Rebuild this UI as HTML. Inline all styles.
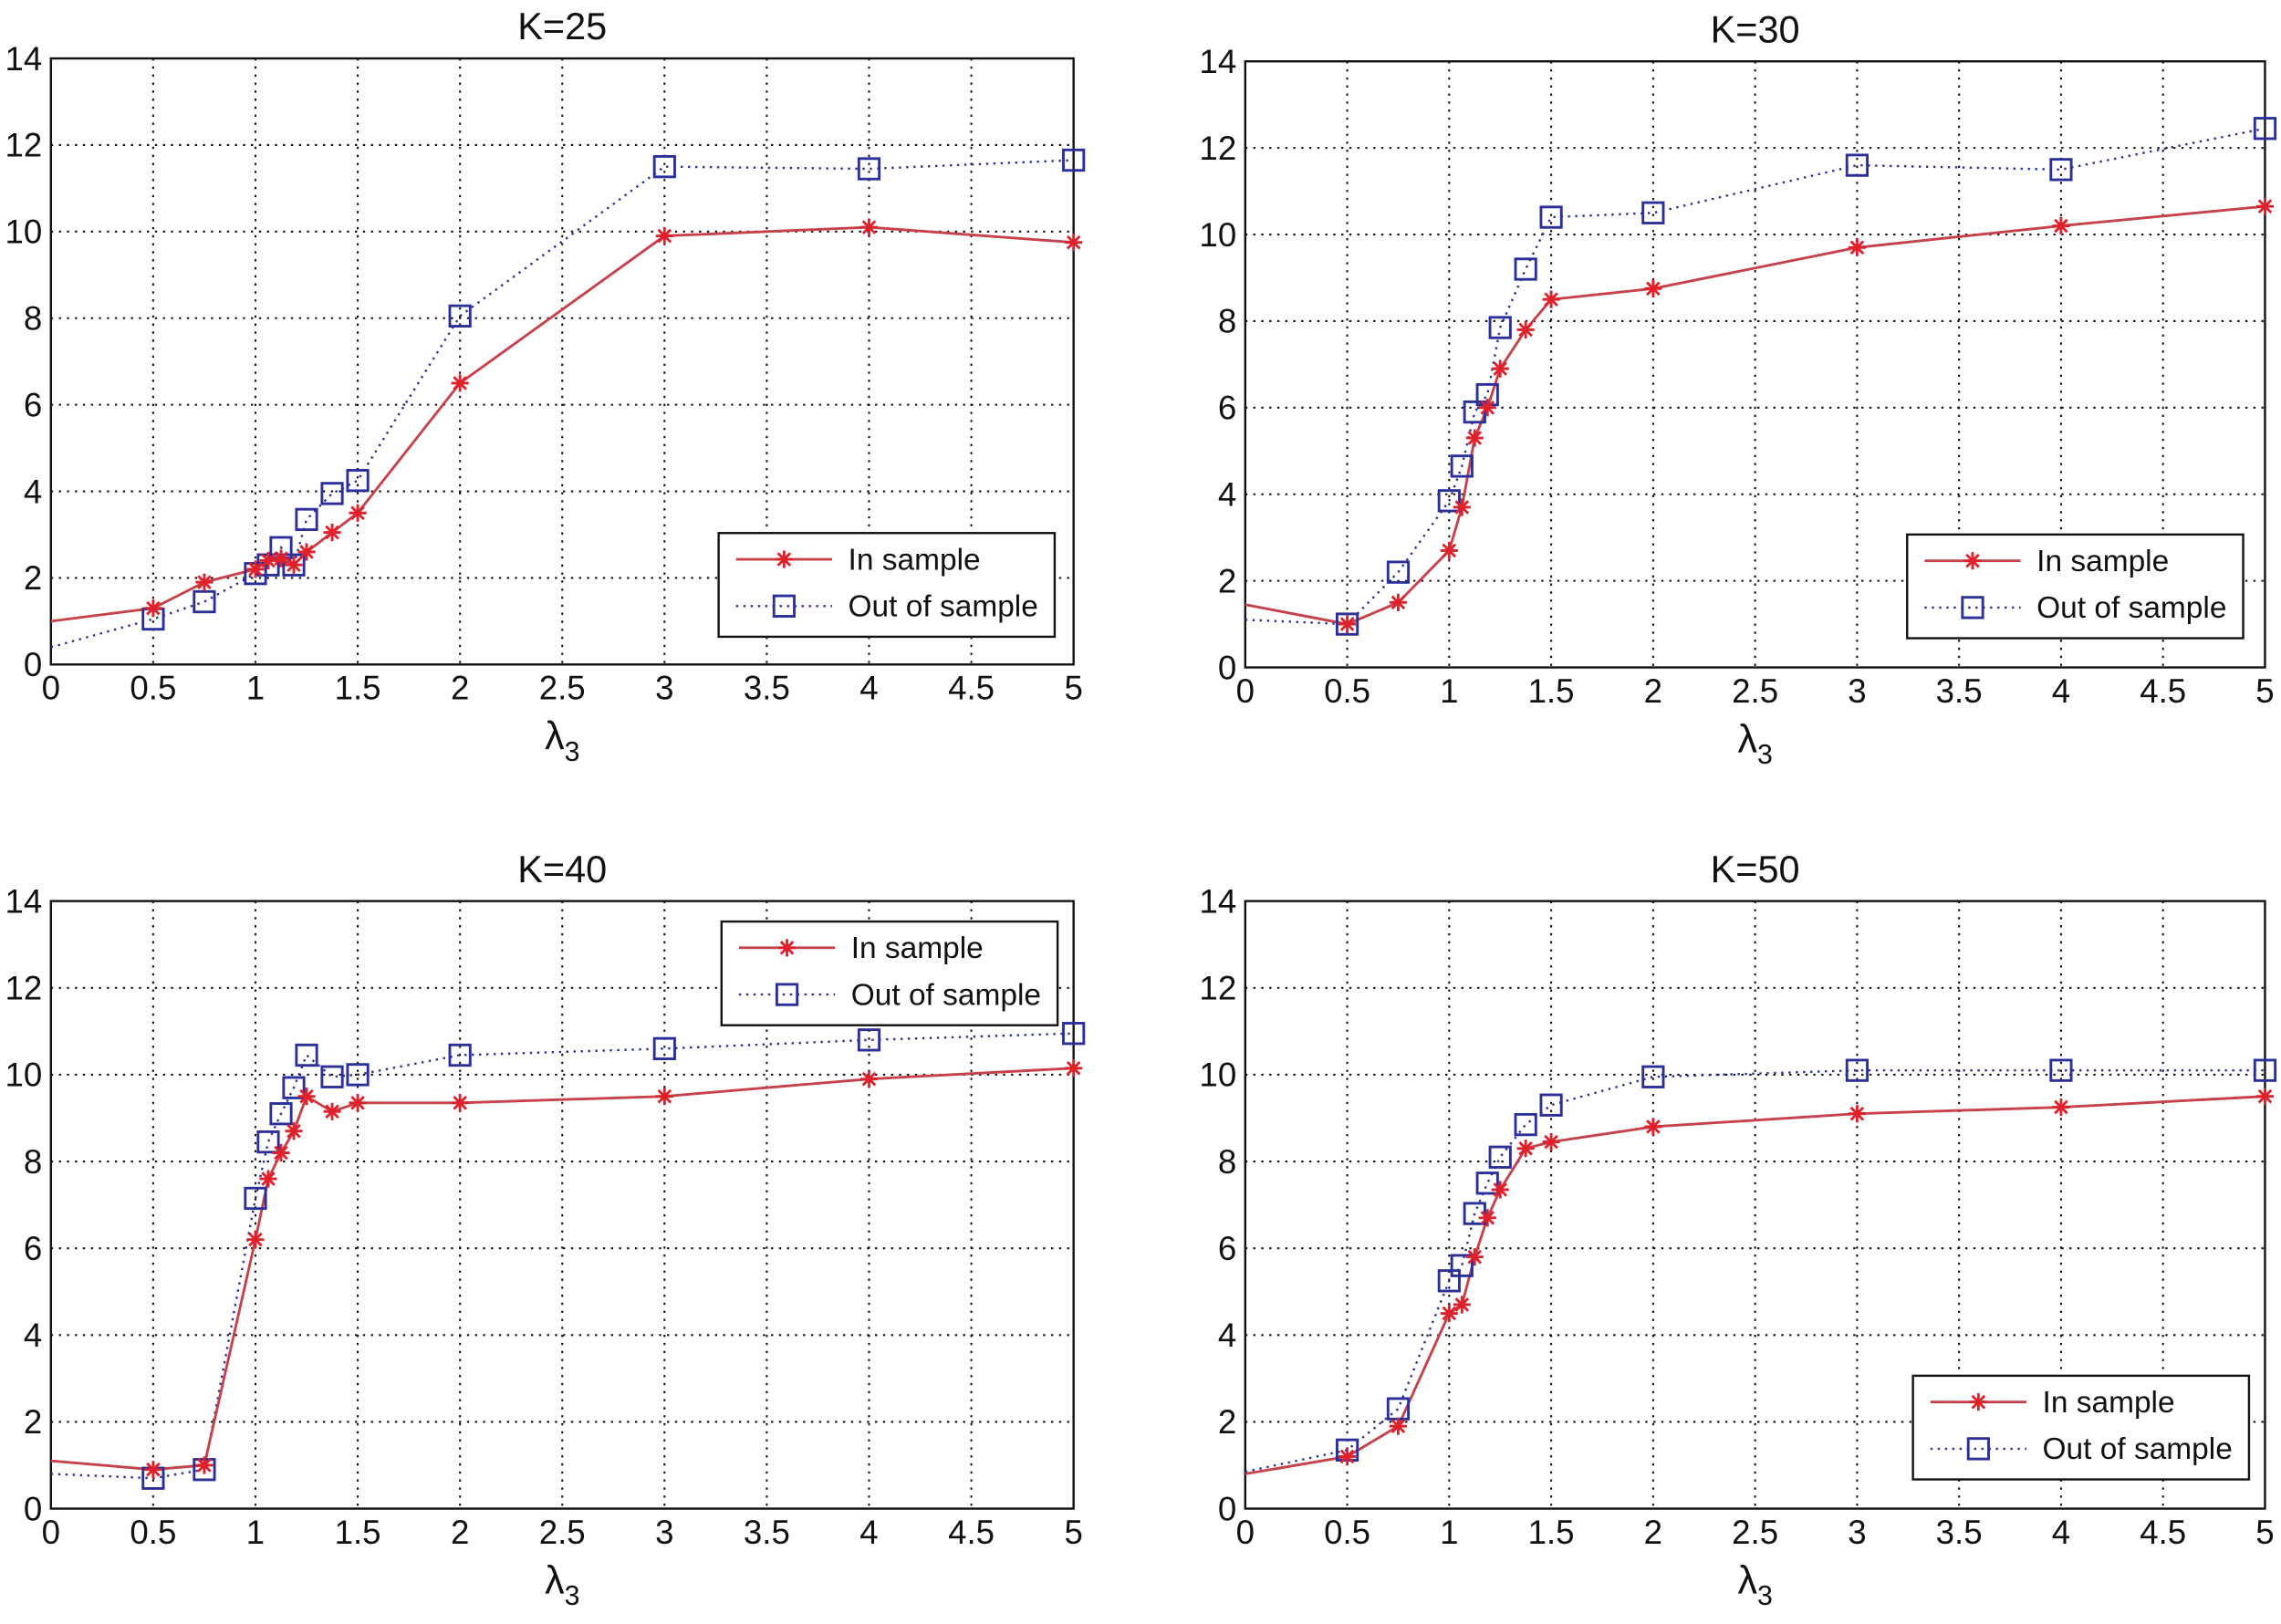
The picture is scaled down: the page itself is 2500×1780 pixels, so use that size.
<!DOCTYPE html>
<html><head><meta charset="utf-8"><style>
html,body{margin:0;padding:0;background:#fff;}
svg{display:block;font-family:"Liberation Sans",sans-serif;}
</style></head><body>
<svg id="fig" width="2500" height="1780" viewBox="0 0 1568 1112" preserveAspectRatio="none" xmlns="http://www.w3.org/2000/svg"></svg>
<script>
const xVals = [0,0.5,0.75,1,1.0625,1.125,1.1875,1.25,1.375,1.5,2,3,4,5];
const titles = ["K=25","K=30","K=40","K=50"];
const inK25 = [1.0,1.3,1.9,2.2,2.4,2.45,2.3,2.6,3.05,3.5,6.5,9.9,10.1,9.75];
const outK25 = [0.4,1.05,1.45,2.1,2.3,2.7,2.3,3.35,3.95,4.25,8.05,11.5,11.45,11.65];
const inK30 = [1.45,1.0,1.5,2.7,3.7,5.3,6.0,6.9,7.8,8.5,8.75,9.7,10.2,10.65];
const outK30 = [1.1,1.0,2.2,3.85,4.65,5.9,6.3,7.85,9.2,10.4,10.5,11.6,11.5,12.45];
const inK40 = [1.1,0.9,1.0,6.2,7.6,8.2,8.7,9.5,9.15,9.35,9.35,9.5,9.9,10.15];
const outK40 = [0.8,0.7,0.9,7.15,8.45,9.1,9.7,10.45,9.95,10.0,10.45,10.6,10.8,10.95];
const inK50 = [0.8,1.2,1.9,4.5,4.7,5.8,6.7,7.35,8.3,8.45,8.8,9.1,9.25,9.5];
const outK50 = [0.85,1.35,2.3,5.25,5.6,6.8,7.5,8.1,8.85,9.3,9.95,10.1,10.1,10.1];
const xTicks = [0,0.5,1,1.5,2,2.5,3,3.5,4,4.5,5];
const xTickLabels = ["0","0.5","1","1.5","2","2.5","3","3.5","4","4.5","5"];
const yTicks = [0,2,4,6,8,10,12,14];

const panels = [
 {l:35,r:738,t:40,b:455,ins:inK25,outs:outK25,leg:[494,365]},
 {l:856,r:1557,t:42,b:457,ins:inK30,outs:outK30,leg:[1311,366]},
 {l:35,r:738,t:617,b:1033,ins:inK40,outs:outK40,leg:[496,631]},
 {l:856,r:1557,t:617,b:1033,ins:inK50,outs:outK50,leg:[1315,942]}
];
const NS="http://www.w3.org/2000/svg";
const svg=document.getElementById('fig');
function mk(tag,attrs,parent,text){const e=document.createElementNS(NS,tag);for(const k in attrs)e.setAttribute(k,attrs[k]);if(text!==undefined)e.textContent=text;(parent||svg).appendChild(e);return e;}
function star(g,x,y){const s=6;let d='';for(let i=0;i<4;i++){const a=i*Math.PI/4;d+=`M${x-s*Math.cos(a)},${y-s*Math.sin(a)}L${x+s*Math.cos(a)},${y+s*Math.sin(a)}`;}
 const p=mk('path',{d:d,stroke:'#e0202a','stroke-width':1.8,fill:'none'},g);
 
 }
function sq(g,x,y){const r=mk('rect',{x:x-7,y:y-7,width:14,height:14,fill:'none',stroke:'#2a2f9a','stroke-width':1.8},g);
 
 }
panels.forEach((P,pi)=>{
 const g=mk('g',{});
 
 
 const xs=v=>P.l+(P.r-P.l)*v/5, ys=v=>P.b-(P.b-P.t)*v/14;
 xTicks.forEach((v,i)=>{
  if(i>0&&i<xTicks.length-1){const gl=mk('line',{x1:xs(v),x2:xs(v),y1:P.t,y2:P.b,stroke:'#111','stroke-width':1.3,'stroke-dasharray':'1.5,4'},g);
   }
  const t=mk('text',{x:xs(v),y:P.b+24,'font-size':23,'text-anchor':'middle',fill:'#111'},g,xTickLabels[i]);
  
 });
 yTicks.forEach(v=>{
  if(v>0&&v<14){const gl=mk('line',{x1:P.l,x2:P.r,y1:ys(v),y2:ys(v),stroke:'#111','stroke-width':1.3,'stroke-dasharray':'1.5,4'},g);
   }
  const t=mk('text',{x:P.l-6,y:ys(v)+8,'font-size':23,'text-anchor':'end',fill:'#111'},g,String(v));
  
 });
 const ax=mk('rect',{x:P.l,y:P.t,width:P.r-P.l,height:P.b-P.t,fill:'none',stroke:'#111','stroke-width':1.5},g);
 
 const tt=mk('text',{x:(P.l+P.r)/2,y:P.t-13,'font-size':26,'text-anchor':'middle',fill:'#111'},g,titles[pi]);
 
 const xl=mk('text',{x:(P.l+P.r)/2-12,y:P.b+58,'font-size':27,fill:'#111'},g);
 
 mk('tspan',{},xl,'λ');mk('tspan',{'font-size':19,dy:8},xl,'3');
 const outPts=xVals.map((x,i)=>xs(x)+','+ys(P.outs[i])).join(' ');
 const inPts=xVals.map((x,i)=>xs(x)+','+ys(P.ins[i])).join(' ');
 const lo=mk('polyline',{points:outPts,fill:'none',stroke:'#2a2f9a','stroke-width':1.5,'stroke-dasharray':'1.5,3.5'},g);
 
 const li=mk('polyline',{points:inPts,fill:'none',stroke:'#c8404a','stroke-width':1.8},g);
 
 xVals.forEach((x,i)=>{if(i>0)sq(g,xs(x),ys(P.outs[i]));});
 xVals.forEach((x,i)=>{if(i>0)star(g,xs(x),ys(P.ins[i]));});
 const [lx,ly]=P.leg;
 const lg=mk('g',{},g);
 
 mk('rect',{x:lx,y:ly,width:231,height:71,fill:'#fff',stroke:'#111','stroke-width':1.5},lg);
 mk('line',{x1:lx+12,x2:lx+78,y1:ly+18,y2:ly+18,stroke:'#c8404a','stroke-width':1.8},lg);
 star(lg,lx+45,ly+18);
 const t1=mk('text',{x:lx+89,y:ly+25,'font-size':21,fill:'#111'},lg,'In sample');
 
 mk('line',{x1:lx+12,x2:lx+78,y1:ly+50,y2:ly+50,stroke:'#2a2f9a','stroke-width':1.5,'stroke-dasharray':'1.5,3.5'},lg);
 sq(lg,lx+45,ly+50);
 const t2=mk('text',{x:lx+89,y:ly+57,'font-size':21,fill:'#111'},lg,'Out of sample');
 
});
</script>
</body></html>
